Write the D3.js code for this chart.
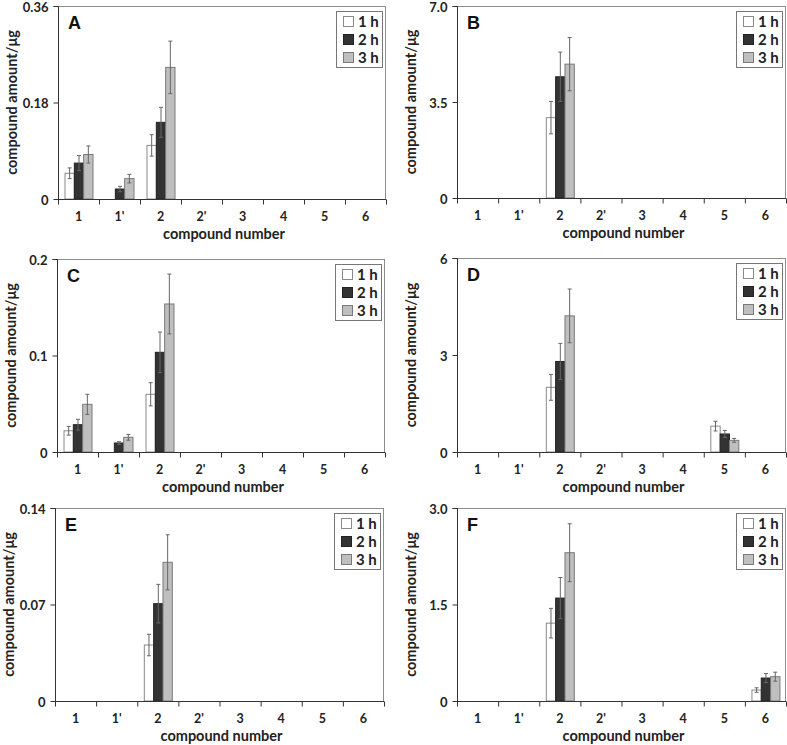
<!DOCTYPE html>
<html><head><meta charset="utf-8">
<script src="https://cdn.jsdelivr.net/npm/d3@7"></script>
<style>body{margin:0;background:#fff;} svg{display:block;}</style>
</head><body>
<svg id="chart" width="787" height="745"></svg>
<script>
const categories = ["1","1'","2","2'","3","4","5","6"];
const seriesNames = ["1 h","2 h","3 h"];

// Panel A
const A_1h = [0.048,0,0.100,0,0,0,0,0];
const A_2h = [0.067,0.0186,0.143,0,0,0,0,0];
const A_3h = [0.083,0.038,0.2455,0,0,0,0,0];
const A_err1 = [0.010,0,0.020,0,0,0,0,0];
const A_err2 = [0.014,0.005,0.028,0,0,0,0,0];
const A_err3 = [0.016,0.008,0.049,0,0,0,0,0];
const A_ticks = ["0","0.18","0.36"];
// Panel B
const B_1h = [0,0,2.93,0,0,0,0,0];
const B_2h = [0,0,4.42,0,0,0,0,0];
const B_3h = [0,0,4.88,0,0,0,0,0];
const B_err1 = [0,0,0.59,0,0,0,0,0];
const B_err2 = [0,0,0.90,0,0,0,0,0];
const B_err3 = [0,0,0.97,0,0,0,0,0];
const B_ticks = ["0","3.5","7.0"];
// Panel C
const C_1h = [0.022,0,0.0598,0,0,0,0,0];
const C_2h = [0.0283,0.0093,0.1033,0,0,0,0,0];
const C_3h = [0.0494,0.0152,0.1534,0,0,0,0,0];
const C_err1 = [0.0045,0,0.012,0,0,0,0,0];
const C_err2 = [0.0056,0.0014,0.021,0,0,0,0,0];
const C_err3 = [0.0104,0.003,0.031,0,0,0,0,0];
const C_ticks = ["0","0.1","0.2"];
// Panel D
const D_1h = [0,0,2.0,0,0,0,0.80,0];
const D_2h = [0,0,2.80,0,0,0,0.557,0];
const D_3h = [0,0,4.21,0,0,0,0.36,0];
const D_err1 = [0,0,0.40,0,0,0,0.15,0];
const D_err2 = [0,0,0.56,0,0,0,0.11,0];
const D_err3 = [0,0,0.83,0,0,0,0.06,0];
const D_ticks = ["0","3","6"];
// Panel E
const E_1h = [0,0,0.0406,0,0,0,0,0];
const E_2h = [0,0,0.0706,0,0,0,0,0];
const E_3h = [0,0,0.1006,0,0,0,0,0];
const E_err1 = [0,0,0.0078,0,0,0,0,0];
const E_err2 = [0,0,0.014,0,0,0,0,0];
const E_err3 = [0,0,0.020,0,0,0,0,0];
const E_ticks = ["0","0.07","0.14"];
// Panel F
const F_1h = [0,0,1.21,0,0,0,0,0.17];
const F_2h = [0,0,1.60,0,0,0,0,0.357];
const F_3h = [0,0,2.305,0,0,0,0,0.378];
const F_err1 = [0,0,0.23,0,0,0,0,0.035];
const F_err2 = [0,0,0.32,0,0,0,0,0.07];
const F_err3 = [0,0,0.45,0,0,0,0,0.07];
const F_ticks = ["0","1.5","3.0"];

const panels = [
  {label:"A", vals:[A_1h,A_2h,A_3h], errs:[A_err1,A_err2,A_err3], ticks:A_ticks, x0:58, x1:386, y0:6, y1:199},
  {label:"B", vals:[B_1h,B_2h,B_3h], errs:[B_err1,B_err2,B_err3], ticks:B_ticks, x0:457, x1:786, y0:6, y1:198},
  {label:"C", vals:[C_1h,C_2h,C_3h], errs:[C_err1,C_err2,C_err3], ticks:C_ticks, x0:57, x1:385, y0:259, y1:452},
  {label:"D", vals:[D_1h,D_2h,D_3h], errs:[D_err1,D_err2,D_err3], ticks:D_ticks, x0:457, x1:786, y0:258, y1:452},
  {label:"E", vals:[E_1h,E_2h,E_3h], errs:[E_err1,E_err2,E_err3], ticks:E_ticks, x0:55, x1:384, y0:508, y1:701},
  {label:"F", vals:[F_1h,F_2h,F_3h], errs:[F_err1,F_err2,F_err3], ticks:F_ticks, x0:457, x1:786, y0:508, y1:701}
];

const fills = ["#ffffff","#333333","#bfbfbf"];
const strokes = ["#8a8a8a","#222222","#7a7a7a"];
const font = "Lato, 'Open Sans', sans-serif";

const svg = d3.select("#chart");

panels.forEach(p => {
  const g = svg.append("g");
  const tickVals = p.ticks.map(Number);
  const ymax = tickVals[tickVals.length-1];
  const y = d3.scaleLinear().domain([0, ymax]).range([p.y1, p.y0]);
  const x = d3.scaleBand().domain(categories).range([p.x0, p.x1]).padding(0);
  const bw = x.bandwidth();
  const inner = d3.scaleBand().domain(seriesNames).range([bw/2 - 14, bw/2 + 14]).padding(0);

  // plot box top/right
  g.append("line").attr("x1",p.x0).attr("x2",p.x1).attr("y1",p.y0+0.5).attr("y2",p.y0+0.5).attr("stroke","#8c8c8c");
  g.append("line").attr("x1",p.x1-0.5).attr("x2",p.x1-0.5).attr("y1",p.y0).attr("y2",p.y1).attr("stroke","#8c8c8c");

  // bars
  seriesNames.forEach((s, si) => {
    categories.forEach((c, ci) => {
      const v = p.vals[si][ci];
      if (!v) return;
      const bx = x(c) + inner(s);
      g.append("rect")
        .attr("x", bx + 0.5).attr("y", y(v))
        .attr("width", inner.bandwidth()).attr("height", y(0) - y(v))
        .attr("fill", fills[si]).attr("stroke", strokes[si]).attr("stroke-width", 1);
      const e = p.errs[si][ci];
      if (e) {
        const cx = bx + inner.bandwidth()/2 + 0.5;
        g.append("line").attr("x1",cx).attr("x2",cx).attr("y1",y(v+e)).attr("y2",y(v-e))
          .attr("stroke","#666").attr("stroke-width",1);
        [v+e, v-e].forEach(t => {
          g.append("line").attr("x1",cx-2).attr("x2",cx+2).attr("y1",y(t)).attr("y2",y(t))
            .attr("stroke","#666").attr("stroke-width",1);
        });
      }
    });
  });

  // y axis
  const yAxis = d3.axisLeft(y).tickValues(tickVals).tickSize(5).tickFormat((d,i)=>p.ticks[i]);
  const ya = g.append("g").attr("transform",`translate(${p.x0+0.5},0)`).call(yAxis);
  ya.select(".domain").attr("stroke","#333").attr("d", `M-5,${p.y0+0.5}H0V${p.y1}`);
  ya.selectAll(".tick line").attr("stroke","#333");
  ya.selectAll(".tick text").attr("x",-10).attr("dy","0.42em").attr("font-family",font).attr("font-weight","bold")
    .attr("font-size",13).attr("fill","#222");

  // x axis: boundary ticks
  const xb = d3.scaleLinear().domain([0, categories.length]).range([p.x0, p.x1]);
  const xAxis = d3.axisBottom(xb).tickValues(d3.range(0, categories.length+1)).tickSize(5).tickFormat("");
  const xa = g.append("g").attr("transform",`translate(0,${p.y1+0.5})`).call(xAxis);
  xa.select(".domain").attr("stroke","#333").attr("d",`M${p.x0},0H${p.x1}`);
  xa.selectAll(".tick line").attr("stroke","#333");
  // category labels
  const xl = d3.axisBottom(x).tickSize(0);
  const xla = g.append("g").attr("transform",`translate(0,${p.y1})`).call(xl);
  xla.select(".domain").remove();
  xla.selectAll(".tick text").attr("y",22).attr("dy",0).attr("font-family",font).attr("font-weight","bold")
    .attr("font-size",12.5).attr("fill","#222");

  // axis titles
  g.append("text").attr("x",(p.x0+p.x1)/2 + 2).attr("y",p.y1+40).attr("text-anchor","middle")
    .attr("font-family",font).attr("font-weight","bold").attr("font-size",14.5).attr("fill","#222")
    .text("compound number");
  g.append("text").attr("transform",`translate(${p.x0-41},${(p.y0+p.y1)/2}) rotate(-90)`)
    .attr("text-anchor","middle").attr("font-family",font).attr("font-weight","bold")
    .attr("font-size",14.5).attr("fill","#222").text("compound amount/μg");

  // panel letter
  g.append("text").attr("x",p.x0+10).attr("y",p.y0+23).attr("font-family","'Liberation Sans', Arial, sans-serif")
    .attr("font-weight","bold").attr("font-size",18).attr("fill","#111").text(p.label);

  // legend
  const lg = g.append("g").attr("transform",`translate(${p.x1-50},${p.y0+5})`);
  lg.append("rect").attr("x",0.5).attr("y",0.5).attr("width",46).attr("height",56)
    .attr("fill","#fff").attr("stroke","#777");
  seriesNames.forEach((s, si) => {
    const cy = 10 + si*18;
    lg.append("rect").attr("x",7.5).attr("y",cy-4.5).attr("width",10).attr("height",10)
      .attr("fill",fills[si]).attr("stroke",strokes[si]);
    lg.append("text").attr("x",22).attr("y",cy+5.5).attr("font-family",font).attr("font-weight","bold")
      .attr("font-size",15).attr("fill","#222").text(s);
  });
});
</script>
</body></html>
